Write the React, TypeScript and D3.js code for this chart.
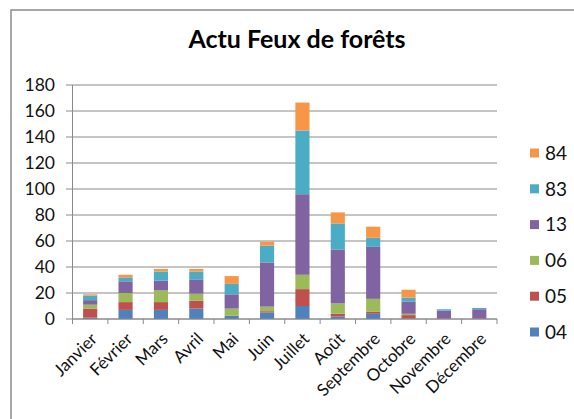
import React from 'react';
import * as d3 from 'd3';

// mois (axe X)
const months = ['Janvier', 'Février', 'Mars', 'Avril', 'Mai', 'Juin', 'Juillet', 'Août', 'Septembre', 'Octobre', 'Novembre', 'Décembre'];

// départements (séries), de bas en haut
const seriesNames = ['04', '05', '06', '13', '83', '84'];

const dep04 = [1, 7, 7, 8, 2.5, 5, 10, 2, 4, 0.5, 0, 0];
const dep05 = [7, 6, 6, 6, 0, 1, 13, 2, 1.5, 2.5, 0.5, 0.5];
const dep06 = [3, 7, 9, 5.5, 5.5, 3.5, 11, 8, 10, 1, 0, 0];
const dep13 = [3.5, 9, 7.5, 11, 11, 34, 62, 41.5, 40, 9.5, 6, 7];
const dep83 = [3.5, 3, 7, 6, 8, 13, 49, 20, 7, 3, 1, 1];
const dep84 = [1, 2, 2, 2, 6, 3, 21.5, 8.5, 8.5, 6, 0, 0];

const yTicks = [0, 20, 40, 60, 80, 100, 120, 140, 160, 180];

const colors = ['#4F81BD', '#C0504D', '#9BBB59', '#8064A2', '#4BACC6', '#F79646'];

const W = 574;
const H = 419;
const font = 'Lato, "Noto Sans", sans-serif';

export default function App() {
  const seriesValues = [dep04, dep05, dep06, dep13, dep83, dep84];
  const rows = months.map((m, i) => {
    const row: any = { month: m };
    seriesNames.forEach((s, j) => { row[s] = seriesValues[j][i]; });
    return row;
  });
  const stacked = d3.stack().keys(seriesNames)(rows);

  const x = d3.scaleBand().domain(months).range([72.5, 497]).padding(0);
  const y = d3.scaleLinear().domain([0, 180]).range([319, 85]);
  const barW = x.bandwidth() * 0.4;

  const legendY = d3.scalePoint().domain(seriesNames.slice().reverse()).range([153, 332]);

  return (
    <svg width={W} height={H} style={{ position: 'absolute', left: 0, top: 0, display: 'block' }} fontFamily={font}>
      <rect x={0} y={0} width={W} height={H} fill="#fff" />
      <rect x={11} y={10} width={W} height={H} fill="#fff" stroke="#8c8c8c" strokeWidth={1.5} />
      <text x={297} y={48} textAnchor="middle" fontSize={25} fontWeight="bold" fill="#000">Actu Feux de forêts</text>

      {/* grille + axe Y */}
      {yTicks.map(t => (
        <g key={t}>
          <line x1={66} x2={497} y1={y(t)} y2={y(t)} stroke="#8a8a8a" strokeWidth={1} />
          <text x={55} y={y(t)} dy="0.36em" textAnchor="end" fontSize={17.5} fill="#111">{t}</text>
        </g>
      ))}
      <line x1={72.5} x2={72.5} y1={y(180)} y2={y(0)} stroke="#8a8a8a" strokeWidth={1} />

      {/* barres empilées */}
      {stacked.map((layer, j) => (
        <g key={layer.key} fill={colors[j]}>
          {layer.map((d, i) => (
            <rect key={i}
              x={(x(months[i]) as number) + (x.bandwidth() - barW) / 2}
              y={y(d[1])}
              width={barW}
              height={Math.max(0, y(d[0]) - y(d[1]))} />
          ))}
        </g>
      ))}

      {/* axe X */}
      <line x1={72.5} x2={497} y1={y(0)} y2={y(0)} stroke="#8a8a8a" strokeWidth={1} />
      {months.map(m => (
        <line key={'t' + m} x1={x(m) as number} x2={x(m) as number} y1={y(0)} y2={y(0) + 5} stroke="#8a8a8a" />
      ))}
      <line x1={497} x2={497} y1={y(0)} y2={y(0) + 5} stroke="#8a8a8a" />
      {months.map(m => {
        const cx = (x(m) as number) + x.bandwidth() / 2 + 8;
        const cy = 340;
        return (
          <text key={m} x={cx} y={cy} textAnchor="end" fontSize={17} fill="#111"
            transform={`rotate(-45 ${cx} ${cy})`}>{m}</text>
        );
      })}

      {/* légende */}
      {seriesNames.slice().reverse().map(s => {
        const j = seriesNames.indexOf(s);
        const ly = legendY(s) as number;
        return (
          <g key={s}>
            <rect x={530} y={ly - 4.5} width={9} height={9} fill={colors[j]} />
            <text x={545} y={ly} dy="0.36em" fontSize={19} fill="#111">{s}</text>
          </g>
        );
      })}
    </svg>
  );
}
